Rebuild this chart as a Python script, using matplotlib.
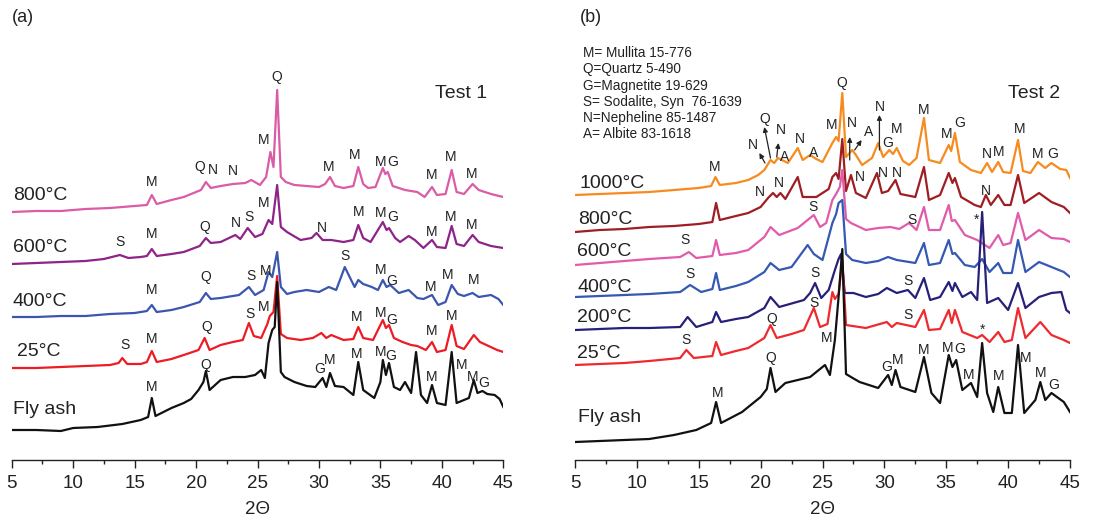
import matplotlib
matplotlib.use("Agg")
import matplotlib.pyplot as plt
from matplotlib.ticker import MultipleLocator

plt.rcParams['font.family'] = ['Liberation Sans', 'DejaVu Sans']

# ---- panel (a): Test 1 ----
a_fly_x = [5, 7, 9, 10, 12, 14, 15.5, 16.1, 16.4, 16.7, 18, 19, 19.6, 20.2, 20.6, 20.8, 21.1, 22, 23, 24, 24.8,
           25.3, 25.6, 25.9, 26.2, 26.4, 26.6, 26.9, 27.2, 28, 29, 29.7, 30.3, 30.6, 30.9, 31.3, 32, 32.8, 33.2,
           33.6, 34.5, 35.0, 35.2, 35.45, 35.7, 36.1, 36.6, 37.0, 37.5, 37.9, 38.3, 38.8, 39.2, 39.6, 40.3, 40.8,
           41.2, 42.2, 42.6, 42.9, 43.3, 43.7, 44.3, 44.7, 45]
a_fly_y = [32, 32, 31, 34, 35, 38, 42, 45, 64, 46, 54, 59, 63, 72, 80, 91, 72, 82, 85, 85, 87,
           92, 84, 119, 132, 135, 180, 90, 85, 80, 76, 75, 84, 75, 89, 76, 75, 67, 100,
           72, 64, 80, 102, 87, 99, 75, 72, 80, 69, 110, 67, 59, 77, 59, 57, 110,
           59, 64, 82, 69, 71, 68, 67, 63, 55]

a_25_x = [5, 7, 9, 11, 13, 13.7, 14.0, 14.4, 15.5, 16.0, 16.4, 16.8, 18, 19, 20.2, 20.7, 21.1, 22, 23, 23.8, 24.3,
          24.7, 25.3, 25.8, 26.0, 26.3, 26.6, 26.9, 27.4, 28.5, 29.5, 30.2, 30.6, 31, 32, 32.8, 33.2, 33.6, 34.4,
          35.2, 35.45, 35.7, 36.1, 36.8, 37.5, 38, 38.7, 39.2, 39.6, 40.3, 40.8, 41.2, 41.8, 42.6, 43.1, 43.8,
          44.5, 45]
a_25_y = [94, 94, 95, 96, 97, 99, 104, 98, 98, 100, 111, 100, 103, 107, 112, 124, 112, 117, 120, 122, 139,
          126, 124, 138, 146, 150, 186, 128, 124, 122, 124, 129, 124, 127, 122, 123, 135, 124, 122,
          142, 134, 137, 124, 120, 117, 116, 112, 120, 110, 112, 137, 116, 113, 127, 120, 116,
          112, 110]

a_400_x = [5, 7, 9, 11, 13, 15, 16.0, 16.4, 16.8, 18, 19, 20.3, 20.8, 21.2, 22, 23.5, 24.3, 24.8, 25.5, 25.9,
           26.2, 26.6, 26.9, 27.4, 28, 29, 30, 30.8, 31.4, 31.8, 32.1, 32.5, 32.9, 33.2, 33.6, 34.3, 34.8, 35.2,
           35.5, 35.8, 36.5, 37.3, 38, 38.5, 39.2, 39.7, 40.3, 40.8, 41.3, 41.8, 42.5, 43, 44, 44.6, 45]
a_400_y = [145, 145, 146, 146, 148, 149, 151, 157, 150, 152, 155, 160, 169, 163, 164, 167, 175, 167, 172, 190,
           185, 210, 175, 168, 170, 172, 170, 175, 172, 185, 195, 185, 175, 182, 178, 175, 172, 182,
           175, 177, 169, 172, 164, 163, 167, 157, 160, 177, 168, 166, 169, 165, 167, 163, 157]

a_600_x = [5, 7, 9, 11, 12.5, 13.8, 14.5, 15.5, 16.0, 16.4, 16.8, 18, 19, 20.3, 20.8, 21.2, 22, 23.2, 23.6,
           24.2, 24.8, 25.4, 25.9, 26.2, 26.6, 26.9, 27.4, 28.5, 29.4, 29.8, 30.3, 31, 32, 32.8, 33.2, 33.6,
           34.2, 35.2, 35.5, 35.7, 36.2, 36.6, 37.3, 37.8, 38.5, 39.2, 39.6, 40.3, 40.8, 41.2, 41.8, 42.5,
           43, 44, 45]
a_600_y = [198, 199, 200, 201, 203, 207, 204, 205, 206, 213, 206, 208, 210, 216, 224, 219, 220, 227, 223,
           234, 225, 228, 242, 238, 277, 235, 230, 222, 224, 229, 222, 222, 220, 222, 237, 224,
           220, 240, 232, 234, 224, 220, 226, 222, 214, 222, 215, 214, 236, 218, 216, 227,
           220, 216, 214]

a_800_x = [5, 7, 9, 11, 13, 15, 16.0, 16.4, 16.8, 18, 19, 20, 20.4, 20.8, 21.2, 22, 23, 24, 24.5, 25.2, 25.7,
           26.05, 26.3, 26.6, 26.9, 27.3, 28, 29, 30, 30.5, 30.9, 31.3, 32, 32.8, 33.2, 33.6, 34, 34.6, 35.2,
           35.4, 35.6, 36.0, 37, 38, 38.6, 39.2, 39.6, 40.3, 40.8, 41.2, 41.8, 42.5, 43, 44, 45]
a_800_y = [250, 251, 251, 253, 254, 256, 257, 267, 258, 262, 265, 270, 272, 280, 274, 276, 278, 279, 282, 277, 285,
           310, 295, 372, 285, 280, 277, 276, 275, 278, 285, 276, 274, 276, 295, 278, 274, 275, 294,
           288, 290, 276, 272, 270, 265, 275, 267, 268, 292, 270, 268, 278, 272, 268, 265]

a_names = ['Fly ash', '25°C', '400°C', '600°C', '800°C']
a_label_y = [52, 110, 160, 215, 267]
a_colors = ['#111111', '#ED1C24', '#3B56AE', '#8E2389', '#DA5BA6']

a_peaks = [('Q', 26.6, 385),
           ('M', 16.4, 280), ('Q', 20.3, 295), ('N', 21.4, 292), ('N', 23.0, 291), ('M', 25.5, 322),
           ('M', 30.8, 295), ('M', 32.9, 307), ('M', 35.0, 300), ('G', 36.0, 300), ('M', 39.2, 287),
           ('M', 40.7, 305), ('M', 42.4, 288),
           ('S', 13.8, 220), ('M', 16.4, 228), ('Q', 20.7, 235), ('N', 23.2, 239), ('S', 24.3, 245),
           ('M', 25.5, 259), ('N', 30.2, 234), ('M', 33.2, 250), ('M', 35.0, 249), ('G', 36.0, 245),
           ('M', 39.2, 230), ('M', 40.7, 245), ('M', 42.4, 237),
           ('M', 16.4, 172), ('Q', 20.8, 185), ('S', 24.5, 186), ('M', 25.7, 191), ('S', 32.1, 206),
           ('M', 35.0, 192), ('G', 35.9, 181), ('M', 39.1, 175), ('M', 40.5, 187), ('M', 42.6, 182),
           ('S', 14.2, 117), ('M', 16.4, 123), ('Q', 20.85, 135), ('S', 24.4, 148), ('M', 25.5, 155),
           ('M', 33.1, 145), ('M', 35.0, 149), ('G', 35.9, 142), ('M', 39.2, 131), ('M', 40.8, 146),
           ('M', 16.4, 75), ('Q', 20.8, 97), ('G', 30.1, 93), ('M', 30.9, 102), ('M', 33.1, 108),
           ('M', 35.0, 110), ('G', 35.8, 106), ('M', 39.2, 85), ('M', 41.6, 97), ('M', 42.5, 85),
           ('G', 43.4, 79)]

# ---- panel (b): Test 2 ----
b_fly_x = [5, 7, 9, 11, 13, 14.8, 16.0, 16.4, 16.8, 18.5, 20.0, 20.5, 20.8, 21.2, 22, 24, 25.2, 25.6, 26.0,
           26.3, 26.6, 26.9, 27.3, 28.0, 29.5, 30.3, 30.6, 30.9, 31.3, 32.5, 33.2, 33.8, 34.5, 35.2, 35.5,
           35.8, 36.3, 37.0, 37.5, 37.9, 38.3, 38.8, 39.2, 39.7, 40.3, 40.8, 41.3, 42.2, 42.6, 43.0, 43.5,
           44.5, 45]
b_fly_y = [17, 18, 19, 20, 24, 29, 36, 57, 36, 47, 62, 70, 91, 67, 76, 82, 94, 84, 119,
           162, 210, 85, 82, 77, 71, 84, 74, 89, 72, 67, 102, 66, 56, 104, 92,
           99, 69, 76, 62, 116, 66, 47, 72, 46, 46, 114, 46, 59, 77, 59, 66,
           57, 47]

b_25_x = [5, 7, 9, 11, 13.5, 14.0, 14.6, 16.1, 16.4, 16.8, 18, 19, 20.3, 20.8, 21.3, 22.5, 23.5, 24.3, 24.8,
          25.4, 25.8, 26.0, 26.3, 26.6, 26.9, 28.5, 30.2, 30.6, 31, 32.5, 33.2, 33.6, 34.5, 35.2, 35.45, 35.7,
          36.3, 37.5, 37.9, 38.5, 39.2, 39.7, 40.3, 40.8, 41.4, 42.6, 43.5, 44.5, 45]
b_25_y = [94, 95, 96, 98, 101, 109, 101, 103, 117, 104, 108, 111, 121, 134, 121, 125, 129, 151, 132,
          135, 167, 160, 165, 199, 134, 131, 137, 132, 136, 132, 149, 129, 130, 149, 136, 149,
          127, 121, 124, 117, 127, 117, 119, 151, 121, 137, 124, 119, 116]

b_200_x = [5, 7, 9, 11, 13.5, 14.1, 14.8, 16.1, 16.4, 16.8, 18, 19, 20.3, 20.8, 21.5, 23.5, 24.0, 24.4, 24.9,
           25.5, 26.0, 26.3, 26.5, 26.8, 27.5, 28.5, 29.5, 30.2, 31, 31.9, 32.5, 33.2, 33.7, 34.5, 35.2, 35.5,
           35.7, 36.3, 37.0, 37.5, 37.9, 38.3, 39.2, 40.0, 40.8, 41.4, 42.5, 43.5, 44.3, 44.7, 45]
b_200_y = [129, 130, 131, 131, 132, 142, 132, 137, 147, 137, 140, 142, 151, 162, 152, 159, 166, 176, 161,
           169, 189, 200, 205, 166, 166, 162, 165, 171, 166, 169, 161, 181, 159, 162, 177, 168,
           176, 162, 167, 159, 247, 156, 161, 149, 176, 151, 162, 166, 167, 149, 146]

b_400_x = [5, 7, 9, 11, 13.5, 14.3, 15.2, 16.1, 16.4, 16.7, 18, 19, 20.3, 20.8, 21.5, 22.5, 23.8, 24.3, 25,
           25.8, 26.1, 26.3, 26.6, 26.9, 27.4, 28.5, 29.5, 30.3, 31, 32.5, 33.2, 33.6, 34.5, 35.2, 35.5, 35.7,
           36.5, 37.3, 37.9, 38.5, 39.2, 39.6, 40.3, 40.8, 41.4, 42.5, 43.5, 44.5, 45]
b_400_y = [162, 163, 164, 165, 167, 174, 167, 170, 186, 169, 173, 177, 187, 196, 189, 192, 214, 205, 199,
           236, 245, 256, 259, 205, 199, 196, 198, 202, 199, 196, 216, 194, 196, 219, 205, 206,
           194, 192, 200, 187, 196, 186, 186, 219, 187, 197, 192, 187, 182]

b_600_x = [5, 7, 9, 11, 13.5, 14.2, 14.8, 16.1, 16.4, 16.7, 18, 19, 20.3, 20.8, 21.5, 23.0, 24.3, 24.8, 25.3,
           25.8, 26.1, 26.4, 26.6, 26.9, 27.3, 28.5, 29.5, 30.5, 31.2, 32.0, 32.6, 33.2, 33.6, 34.5, 35.2,
           35.45, 35.7, 36.5, 37.5, 38.5, 39.2, 39.6, 40.2, 40.8, 41.4, 42.5, 43.5, 44.5, 45]
b_600_y = [194, 196, 198, 200, 202, 207, 201, 203, 219, 204, 206, 209, 222, 232, 224, 231, 244, 232, 236,
           259, 265, 272, 289, 240, 236, 229, 231, 232, 230, 236, 229, 252, 229, 229, 254,
           238, 239, 224, 219, 211, 224, 214, 216, 246, 219, 229, 221, 220, 217]

b_800_x = [5, 7, 9, 11, 13, 15, 16.1, 16.4, 16.7, 18, 19, 20, 20.6, 21.0, 21.3, 21.6, 22.0, 23.0, 23.4, 24.5,
           25.5, 25.8, 26.1, 26.3, 26.6, 26.9, 27.3, 27.7, 28.5, 29.4, 29.8, 30.3, 30.9, 31.3, 32.5, 33.2,
           33.6, 34.5, 35.2, 35.5, 35.7, 36.2, 37.3, 37.8, 38.2, 38.6, 39.2, 39.7, 40.2, 40.8, 41.3, 42.5,
           43.5, 44.5, 45]
b_800_y = [227, 229, 230, 232, 233, 235, 237, 256, 239, 243, 246, 252, 261, 266, 262, 266, 260, 282, 262, 262,
           270, 282, 286, 280, 320, 268, 284, 266, 261, 286, 266, 268, 279, 265, 262, 292,
           259, 264, 286, 276, 281, 262, 254, 252, 264, 254, 264, 254, 254, 284, 256, 266,
           257, 252, 246]

b_1000_x = [5, 7, 9, 11, 13, 15, 16.0, 16.35, 16.7, 18, 19, 19.8, 20.3, 20.8, 21.1, 21.4, 22.2, 23.0, 23.4,
            24.0, 24.5, 25, 25.8, 26.1, 26.3, 26.6, 26.9, 27.4, 27.7, 28.2, 29.0, 29.5, 29.9, 30.4, 30.7, 31.0,
            31.5, 32.0, 32.6, 33.2, 33.6, 34.5, 35.2, 35.4, 35.7, 36.1, 37.0, 37.8, 38.3, 38.7, 39.2, 39.6,
            40.2, 40.8, 41.2, 41.8, 42.4, 43.0, 43.5, 44.2, 44.7, 45]
b_1000_y = [264, 265, 266, 267, 269, 271, 273, 282, 274, 276, 279, 284, 289, 299, 296, 301, 296, 311, 299,
            304, 300, 297, 316, 322, 318, 366, 302, 309, 304, 294, 301, 316, 302, 309, 305, 311,
            298, 294, 301, 341, 299, 296, 314, 308, 326, 297, 289, 286, 296, 287, 297, 287,
            286, 319, 288, 286, 297, 291, 296, 290, 289, 281]

b_names = ['Fly ash', '25°C', '200°C', '400°C', '600°C', '800°C', '1000°C']
b_label_y = [41, 106, 142, 172, 207, 239, 276]
b_colors = ['#111111', '#EE2A2E', '#262079', '#3558B2', '#E05CAA', '#9E1E24', '#F68B1F']

b_peaks = [('Q', 26.55, 376),
           ('M', 16.3, 292), ('A', 21.97, 302), ('N', 23.2, 320), ('A', 24.26, 306), ('M', 25.74, 334),
           ('G', 30.3, 316), ('M', 31.0, 330), ('M', 33.15, 349), ('M', 35.0, 325), ('G', 36.1, 336),
           ('N', 38.27, 305), ('M', 39.2, 307), ('M', 40.9, 330), ('M', 42.4, 305), ('G', 43.6, 305),
           ('N', 19.95, 267), ('N', 21.5, 276), ('N', 28.0, 282), ('N', 29.9, 286), ('N', 31.0, 286),
           ('N', 38.2, 268),
           ('S', 13.85, 219), ('S', 24.26, 252), ('S', 32.2, 239), ('*', 37.46, 239),
           ('S', 14.3, 185),
           ('S', 24.4, 186), ('S', 31.9, 178),
           ('S', 14.0, 119), ('Q', 20.9, 140), ('S', 24.3, 156), ('S', 31.9, 144), ('*', 37.9, 129),
           ('M', 25.3, 121), ('Q', 20.8, 101), ('M', 16.5, 66), ('G', 30.2, 92), ('M', 31.1, 99),
           ('M', 33.15, 109), ('M', 35.1, 111), ('G', 36.1, 110), ('M', 36.8, 84), ('M', 39.2, 83),
           ('M', 41.45, 101), ('M', 42.6, 86), ('G', 43.7, 74)]

# labels with arrows: text, text pos, arrow tail (on peak), arrow head
b_arrows = [('N', (19.4, 314), (20.35, 296), (19.9, 306)),
            ('Q', (20.35, 340), (20.8, 301), (20.3, 332)),
            ('N', (21.6, 329), (21.3, 302), (21.44, 316)),
            ('N', (27.4, 336), (27.2, 299), (27.2, 322)),
            ('A', (28.7, 327), (27.6, 309), (28.16, 319)),
            ('N', (29.6, 352), (29.6, 309), (29.6, 344))]

b_legend = ['M= Mullita 15-776', 'Q=Quartz 5-490', 'G=Magnetite 19-629',
            'S= Sodalite, Syn  76-1639', 'N=Nepheline 85-1487', 'A= Albite 83-1618']

a_traces = [(a_fly_x, a_fly_y), (a_25_x, a_25_y), (a_400_x, a_400_y), (a_600_x, a_600_y), (a_800_x, a_800_y)]
b_traces = [(b_fly_x, b_fly_y), (b_25_x, b_25_y), (b_200_x, b_200_y), (b_400_x, b_400_y),
            (b_600_x, b_600_y), (b_800_x, b_800_y), (b_1000_x, b_1000_y)]

W, H = 1096, 521
fig = plt.figure(figsize=(W / 100, H / 100), dpi=100)
ax_a = fig.add_axes([11.7 / W, (H - 459.5) / H, 491.6 / W, 439.5 / H])
ax_b = fig.add_axes([575 / W, (H - 459.5) / H, 495 / W, 439.5 / H])


def style_axis(ax, y0):
    ax.set_xlim(5, 45)
    ax.set_ylim(y0, y0 + 439.5)
    for s in ['left', 'right', 'top']:
        ax.spines[s].set_visible(False)
    ax.spines['bottom'].set_linewidth(1.0)
    ax.spines['bottom'].set_color('#222222')
    ax.set_yticks([])
    ax.xaxis.set_major_locator(MultipleLocator(5))
    ax.xaxis.set_minor_locator(MultipleLocator(2.5))
    ax.tick_params(axis='x', which='major', direction='out', length=5.5, width=1.0, pad=6,
                   labelsize=13.5, colors='#222222')
    ax.tick_params(axis='x', which='minor', direction='out', length=3, width=1.0, colors='#222222')
    ax.set_xlabel('2Θ', fontsize=13.5, labelpad=6, color='#222222')
    ax.patch.set_alpha(0)


def draw_panel(ax, traces, names, label_y, colors, peaks, label_x):
    # upper traces first, fly ash drawn last
    for (x, y), c in list(zip(traces, colors))[::-1]:
        ax.plot(x, y, color=c, lw=1.6, solid_joinstyle='round')
    for name, ly, lx in zip(names, label_y, label_x):
        ax.text(lx, ly, name, fontsize=14, ha='left', va='center', color='#222222')
    for t, px, py in peaks:
        ax.text(px, py, t, fontsize=10, ha='center', va='center', color='#222222')


style_axis(ax_a, 2.5)
style_axis(ax_b, -0.5)

draw_panel(ax_a, a_traces, a_names, a_label_y, a_colors, a_peaks, [5.1, 5.4, 5.1, 5.1, 5.1])
draw_panel(ax_b, b_traces, b_names, b_label_y, b_colors, b_peaks, [5.25, 5.2, 5.2, 5.2, 5.2, 5.25, 5.4])

for t, tp, tail, head in b_arrows:
    ax_b.text(tp[0], tp[1], t, fontsize=10, ha='center', va='center', color='#222222')
    ax_b.annotate('', xy=head, xytext=tail,
                  arrowprops=dict(arrowstyle='-|>', color='#222222', lw=0.9, mutation_scale=7,
                                  shrinkA=0, shrinkB=0))

ax_a.text(43.7, 369, 'Test 1', fontsize=14, ha='right', va='center', color='#222222')
ax_b.text(44.2, 366, 'Test 2', fontsize=14, ha='right', va='center', color='#222222')

for i, line in enumerate(b_legend):
    fig.text(583 / W, 1 - (53.3 + 16.2 * i) / H, line, fontsize=9.8, ha='left', va='center', color='#222222')

fig.text(12 / W, 1 - 18 / H, '(a)', fontsize=13, ha='left', va='center', color='#222222')
fig.text(580 / W, 1 - 18 / H, '(b)', fontsize=13, ha='left', va='center', color='#222222')

fig.savefig('out.png', dpi=100)
